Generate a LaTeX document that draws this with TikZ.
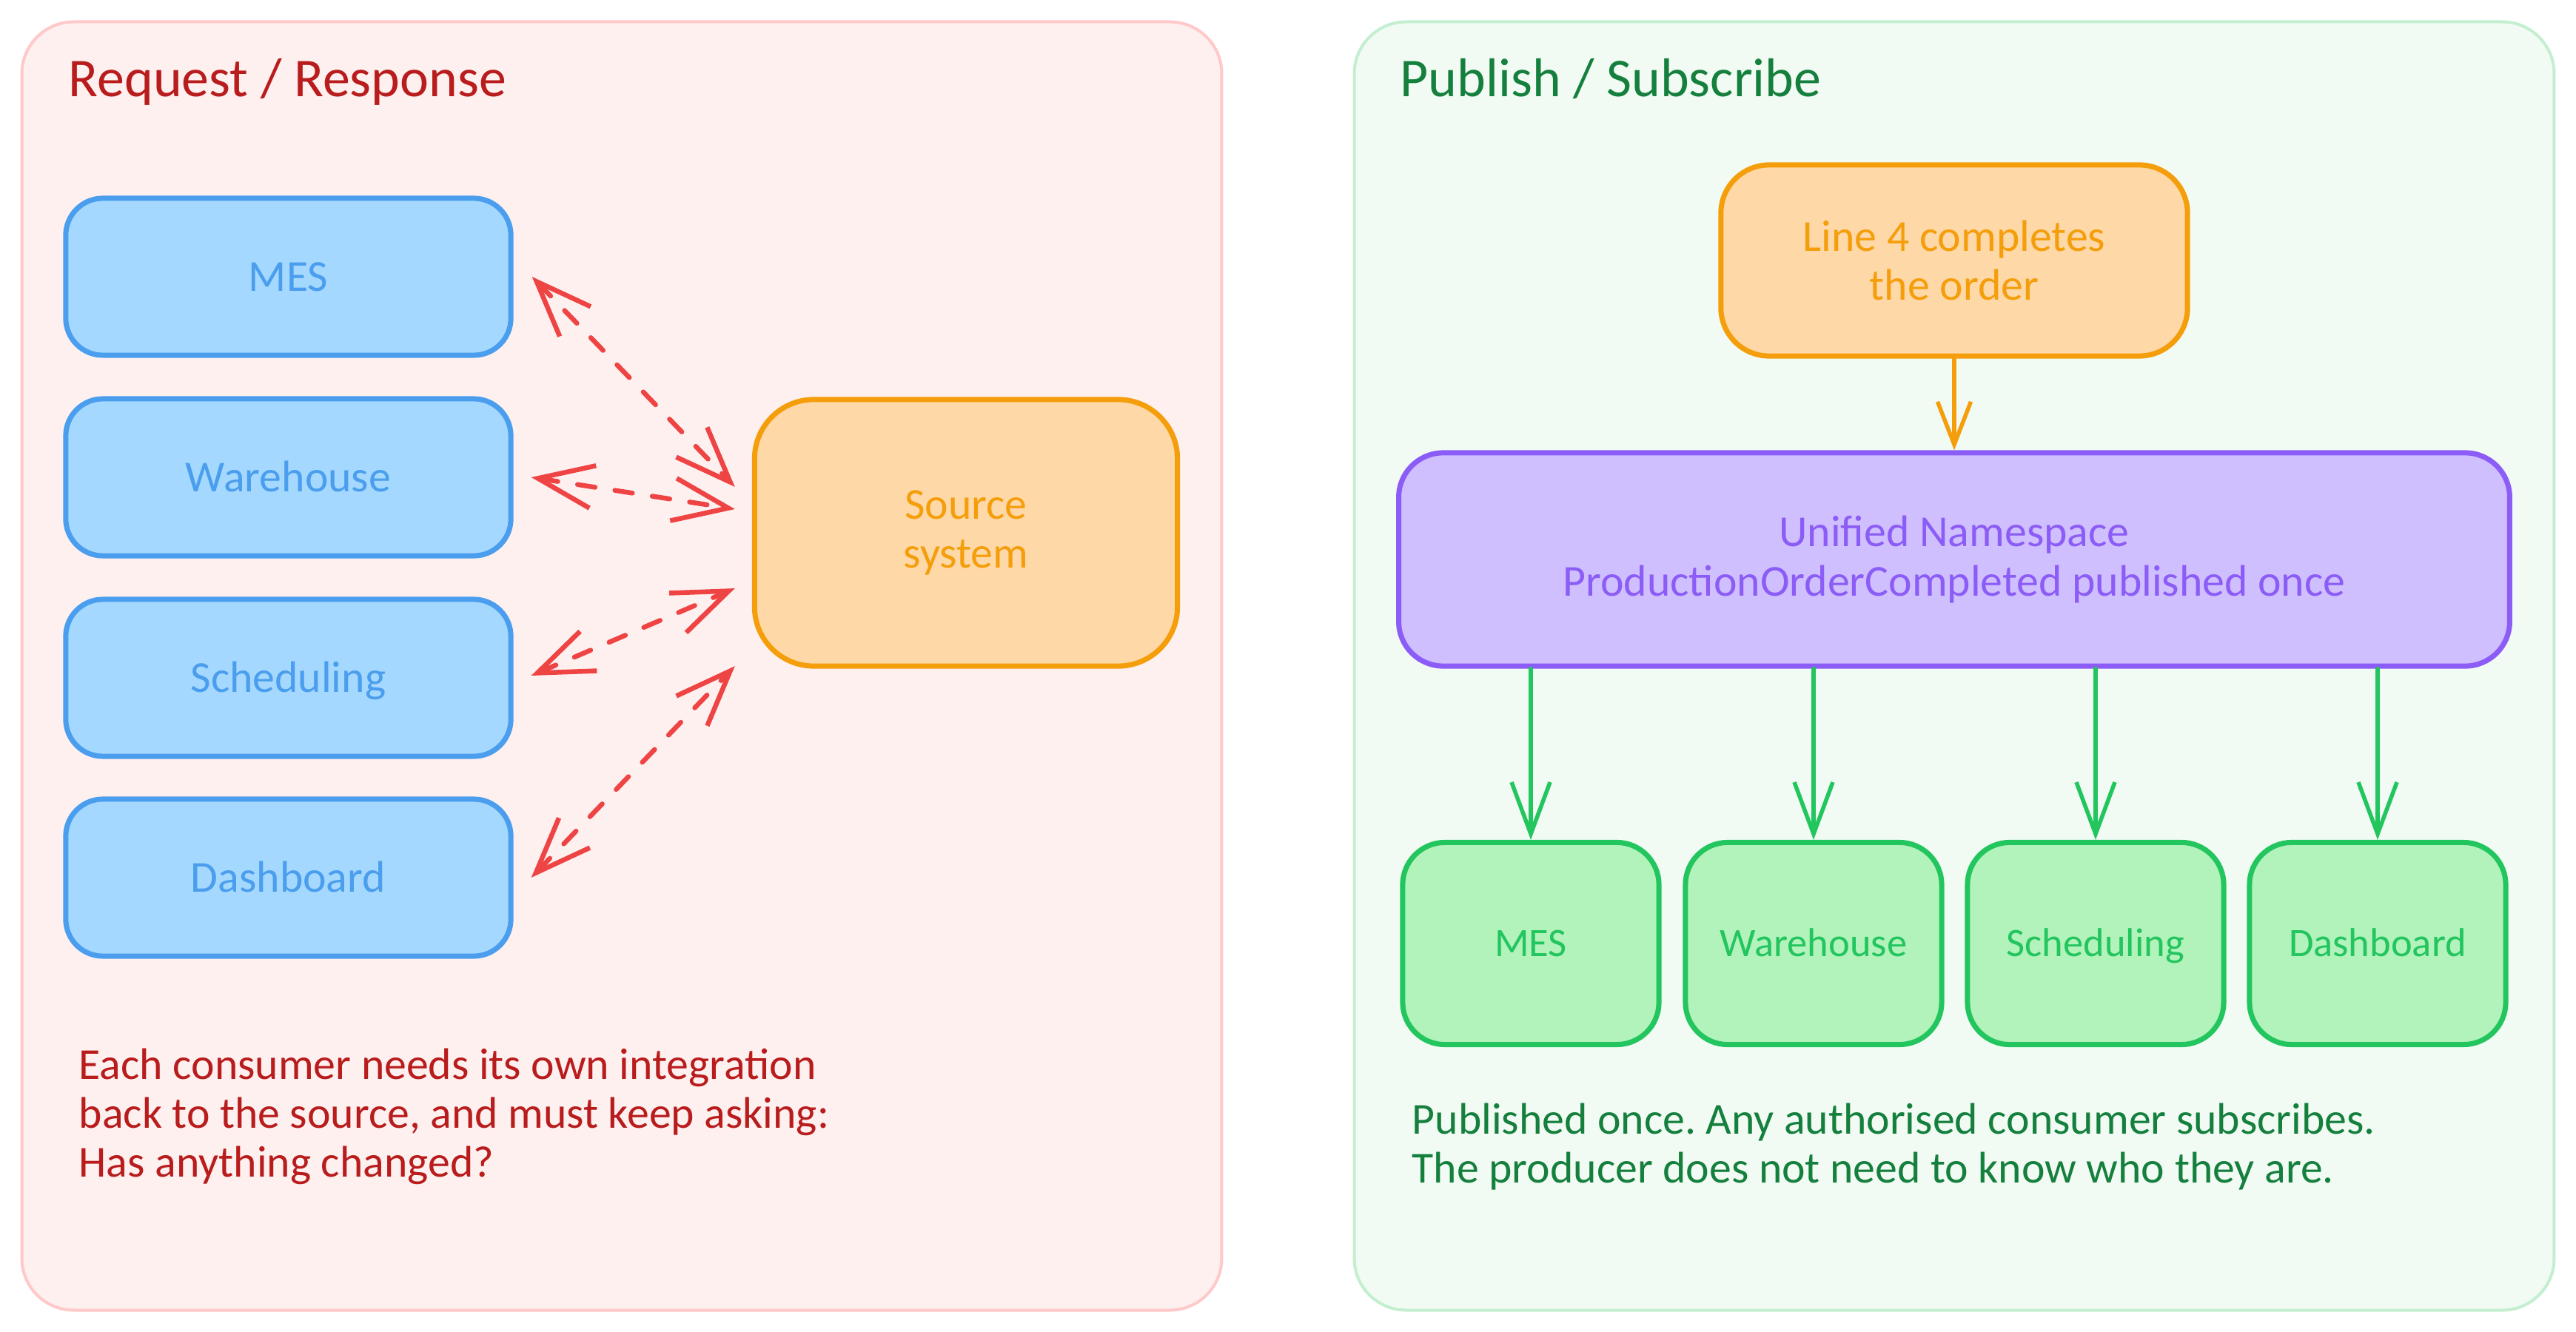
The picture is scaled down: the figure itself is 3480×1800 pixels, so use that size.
\documentclass[tikz,border=0pt]{standalone}
\usepackage{fontspec}
\setmainfont{Carlito}
\usetikzlibrary{arrows.meta}
\definecolor{leftfill}{HTML}{FFF0F0}
\definecolor{leftstroke}{HTML}{FFC9C9}
\definecolor{rightfill}{HTML}{F1FBF4}
\definecolor{rightstroke}{HTML}{C3EFD0}
\definecolor{titlered}{HTML}{B91C1C}
\definecolor{titlegreen}{HTML}{15803D}
\definecolor{bluestroke}{HTML}{4A9EED}
\definecolor{bluefill}{HTML}{A5D8FF}
\definecolor{orangestroke}{HTML}{F59E0B}
\definecolor{orangefill}{HTML}{FFD8A8}
\definecolor{arrowred}{HTML}{EF4444}
\definecolor{purplestroke}{HTML}{8B5CF6}
\definecolor{purplefill}{HTML}{D0BFFF}
\definecolor{greenstroke}{HTML}{22C55E}
\definecolor{greenfill}{HTML}{B2F2BB}
\newcommand\setfs[2]{\fontsize{#1}{#2}\selectfont}
\frenchspacing
\begin{document}
\begin{tikzpicture}[x=0.01cm,y=-0.01cm,
  line join=round, line cap=round,
  panelbox/.style={draw, line width=0.04cm, rounded corners=0.7cm, inner sep=0pt,
    minimum width=16.2cm, minimum height=17.4cm},
  box/.style={draw, line width=0.07cm, inner sep=0pt, align=center},
  bluebox/.style={box, draw=bluestroke, fill=bluefill, text=bluestroke, rounded corners=0.5cm,
    minimum width=6.01cm, minimum height=2.12cm, font=\setfs{17pt}{19pt},
    text height=13pt, text depth=2pt},
  srcbox/.style={box, draw=orangestroke, fill=orangefill, text=orangestroke, rounded corners=0.8cm,
    minimum width=5.71cm, minimum height=3.6cm, font=\setfs{17pt}{19pt}},
  orderbox/.style={box, draw=orangestroke, fill=orangefill, text=orangestroke, rounded corners=0.65cm,
    minimum width=6.3cm, minimum height=2.58cm, font=\setfs{17pt}{19pt}},
  unsbox/.style={box, draw=purplestroke, fill=purplefill, text=purplestroke, rounded corners=0.6cm,
    minimum width=15cm, minimum height=2.88cm, font=\setfs{17pt}{19.3pt}},
  greenbox/.style={box, draw=greenstroke, fill=greenfill, text=greenstroke, rounded corners=0.57cm,
    minimum width=3.46cm, minimum height=2.73cm, font=\setfs{15.5pt}{18pt},
    text height=12pt, text depth=2pt},
  redarrow/.style={draw=arrowred, line width=0.065cm, dash pattern=on 0.24cm off 0.27cm,
    arrows={Straight Barb[length=0.75cm,width=0.58cm]-Straight Barb[length=0.75cm,width=0.58cm]}},
  orangearrow/.style={draw=orangestroke, line width=0.055cm,
    arrows={-Straight Barb[length=0.58cm,width=0.45cm]}},
  greenarrow/.style={draw=greenstroke, line width=0.055cm,
    arrows={-Straight Barb[length=0.7cm,width=0.52cm]}},
  titletext/.style={anchor=base west, inner sep=0pt, font=\setfs{21pt}{25pt}},
  captext/.style={anchor=north west, inner sep=0pt, align=left, font=\setfs{17pt}{18.8pt}}
]
\useasboundingbox[fill=white] (0,0) rectangle (3480,1800);

% panels
\node[panelbox, draw=leftstroke, fill=leftfill] (lpanel) at (840,900) {};
\node[panelbox, draw=rightstroke, fill=rightfill] (rpanel) at (2640,900) {};

% titles
\node[titletext, text=titlered] (ltitle) at (92,131) {Request / Response};
\node[titletext, text=titlegreen] (rtitle) at (1891,131) {Publish / Subscribe};

% left side
\node[bluebox] (mes) at (389.5,374) {MES};
\node[bluebox] (wh) at (389.5,645) {Warehouse};
\node[bluebox] (sch) at (389.5,916) {Scheduling};
\node[bluebox] (dash) at (389.5,1186) {Dashboard};
\node[srcbox] (src) at (1305,720) {Source\\system};

\draw[redarrow] ([xshift=0.25cm]mes.east) -- ([shift={(-0.23cm,0.62cm)}]src.west);
\draw[redarrow] ([xshift=0.24cm]wh.east) -- ([shift={(-0.23cm,0.32cm)}]src.west);
\draw[redarrow] ([shift={(0.24cm,0.03cm)}]sch.east) -- ([shift={(-0.23cm,-0.75cm)}]src.west);
\draw[redarrow] ([xshift=0.24cm]dash.east) -- ([shift={(-0.23cm,-1.8cm)}]src.west);

\node[captext, text=titlered] (lcap) at (106,1416)
  {Each consumer needs its own integration\\back to the source, and must keep asking:\\Has anything changed?};

% right side
\node[orderbox] (order) at (2640,352) {Line 4 completes\\the order};
\node[unsbox] (uns) at (2640,756) {Unified Namespace\\ProductionOrderCompleted published once};
\draw[orangearrow] (order.south) -- (uns.north);

\node[greenbox] (gmes) at (2068,1275) {MES};
\node[greenbox] (gwh) at (2450,1275) {Warehouse};
\node[greenbox] (gsch) at (2831,1275) {Scheduling};
\node[greenbox] (gdash) at (3212,1275) {Dashboard};
\foreach \g in {gmes,gwh,gsch,gdash}
  \draw[greenarrow] (\g.north |- uns.south) -- (\g.north);

\node[captext, text=titlegreen] (rcap) at (1907,1490)
  {Published once. Any authorised consumer subscribes.\\The producer does not need to know who they are.};
\end{tikzpicture}
\end{document}
